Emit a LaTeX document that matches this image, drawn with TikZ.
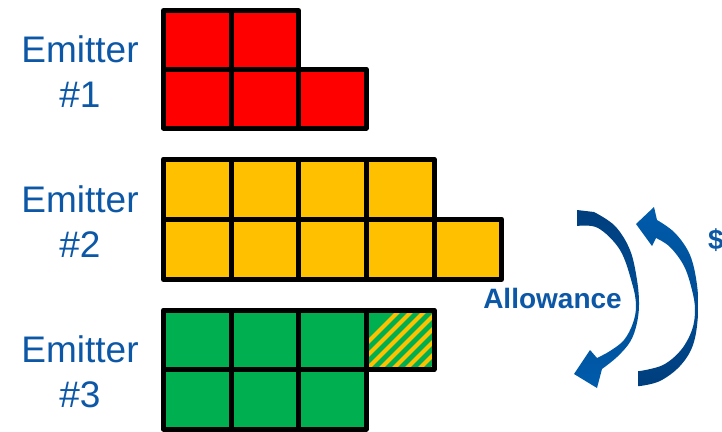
\documentclass[tikz,border=0pt]{standalone}
\usepackage{fontspec}
\setmainfont{Liberation Sans}
\definecolor{txtblue}{RGB}{12,88,166}
\definecolor{arrdark}{RGB}{0,62,125}
\definecolor{arrlight}{RGB}{0,92,172}
\definecolor{cred}{RGB}{255,0,0}
\definecolor{cgold}{RGB}{255,192,0}
\definecolor{cgreen}{RGB}{0,176,80}
\begin{document}
\begin{tikzpicture}[x=0.75pt,y=-0.75pt,
  cellbox/.style={line width=3.75pt, draw=black, line join=round},
  emit/.style={text=txtblue, font=\fontsize{27.75}{33}\selectfont, anchor=base, inner sep=0pt},
  boldlab/.style={text=txtblue, font=\bfseries\fontsize{21}{25}\selectfont, anchor=base, inner sep=0pt}]
\useasboundingbox (0,0) rectangle (722,432);

% ---- red block ----
\fill[cred] (163.5,10.5) rectangle (298.5,69) (163.5,69) rectangle (366,128);
\foreach \a/\b/\c/\d in {163.5/10.5/231/69, 231/10.5/298.5/69,
  163.5/69/231/128, 231/69/298.5/128, 298.5/69/366/128}
  \draw[cellbox] (\a,\b) rectangle (\c,\d);

% ---- yellow block ----
\fill[cgold] (163.5,159) rectangle (434,219) (163.5,219) rectangle (501.5,279.5);
\foreach \a/\b/\c/\d in {163.5/159/231/219, 231/159/298.5/219, 298.5/159/366/219, 366/159/434/219,
  163.5/219/231/279.5, 231/219/298.5/279.5, 298.5/219/366/279.5, 366/219/434/279.5, 434/219/501.5/279.5}
  \draw[cellbox] (\a,\b) rectangle (\c,\d);

% ---- green block ----
\fill[cgreen] (163.5,310) rectangle (366,369.5) (163.5,369.5) rectangle (366,429);
\begin{scope}
  \clip (366,310) rectangle (434,369.5);
  \fill[cgreen] (366,310) rectangle (434,369.5);
  \foreach \k in {0,...,11}
    \draw[cgold, line width=3pt] (330+\k*13,380) -- ++(80,-80);
\end{scope}
\foreach \a/\b/\c/\d in {163.5/310/231/369.5, 231/310/298.5/369.5, 298.5/310/366/369.5, 366/310/434/369.5,
  163.5/369.5/231/429, 231/369.5/298.5/429, 298.5/369.5/366/429}
  \draw[cellbox] (\a,\b) rectangle (\c,\d);

% ---- labels ----
\node[emit] (e1a) at (80,62.5) {Emitter};
\node[emit] (e1b) at (80,107.5) {\#1};
\node[emit] (e2a) at (80,212.5) {Emitter};
\node[emit] (e2b) at (80,257.5) {\#2};
\node[emit] (e3a) at (80,362.5) {Emitter};
\node[emit] (e3b) at (80,407.5) {\#3};
\node[boldlab] (allow) at (552.5,308) {Allowance};
\node[boldlab] (dollar) at (716,249) {\$};

% ---- left curved arrow (allowance) ----
\shade[top color=arrdark, bottom color=arrlight]
  (577,210) -- plot[smooth, tension=0.6] coordinates {(594,212) (615,226) (630,250) (637,280) (639,305) (636.5,325) (630,342) (617,357) (602,369)}
  -- (597,388) -- (574,374) -- (590,350)
  -- plot[smooth, tension=0.6] coordinates {(597,358) (610,351) (624,340) (633,323) (636,305) (632,283) (620,250) (598,228) (577,226)}
  -- cycle;

% ---- right curved arrow ($) ----
\shade[top color=arrlight, bottom color=arrdark]
  (638,371) -- (638,386)
  -- plot[smooth, tension=0.6] coordinates {(640,386) (660,381) (680,366) (693,345) (698,315) (697,285) (690,255) (675,233) (657,220)}
  -- (654,207) -- (636,224) -- (652,246)
  -- plot[smooth, tension=0.6] coordinates {(656,238) (670,247) (684,266) (692,290) (695,310) (692,330) (681,350) (663,365) (640,371)}
  -- cycle;
\end{tikzpicture}
\end{document}
